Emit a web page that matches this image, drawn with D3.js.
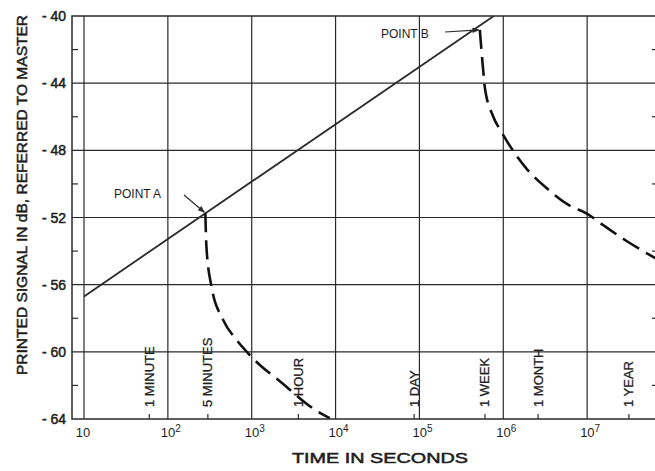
<!DOCTYPE html>
<html>
<head>
<meta charset="utf-8">
<script src="https://cdn.jsdelivr.net/npm/d3@7"></script>
<style>
  body { margin: 0; background: #fff; }
  text { font-family: "Liberation Sans", Arial, sans-serif; fill: #1e1e1e; }
</style>
</head>
<body>
<div id="chart"></div>
<script>
// Decade ticks along the time axis (seconds)
const decades = [10, 1e2, 1e3, 1e4, 1e5, 1e6, 1e7];
const decadeExp = ["", "2", "3", "4", "5", "6", "7"];
const dbTicks = [-40, -44, -48, -52, -56, -60, -64];
const dbMinor = [-42, -46, -50, -54, -58, -62];

// Named time markers
const markerNames = ["1 MINUTE", "5 MINUTES", "1 HOUR", "1 DAY", "1 WEEK", "1 MONTH", "1 YEAR"];
const markerTimes = [60, 300, 3600, 86400, 604800, 2.6e6, 3.15e7];

// Straight build-up line
const lineTimes = [10, 7.7e5];
const lineDb = [-56.7, -40];

// Decay after point A
const curveATimes = [280, 288, 331, 457, 661, 912, 1259, 1995, 5890, 8510];
const curveADb = [-51.75, -53.7, -56.1, -58.1, -59.3, -60.1, -60.8, -61.6, -63.5, -63.95];

// Decay after point B
const curveBTimes = [5.25e5, 5.75e5, 6.0e5, 7.6e5, 9.5e5, 1.26e6, 1.9e6, 3.2e6, 6.2e6, 9.8e6, 1.55e7, 2.95e7, 5.9e7, 7.5e7];
const curveBDb = [-40.83, -43.2, -44.2, -46.0, -46.9, -47.9, -49.1, -50.2, -51.3, -51.75, -52.45, -53.4, -54.3, -54.6];

const pointA = [280, -51.75];
const pointB = [5.25e5, -40.83];

const width = 655, height = 471;
const frame = { left: 72, right: 658, top: 16, bottom: 419 };

const svg = d3.select("#chart").append("svg")
    .attr("width", width)
    .attr("height", height);

const x = d3.scaleLog().domain([10, 1e8]).range([84, 671]);
const y = d3.scaleLinear().domain([-64, -40]).range([frame.bottom, frame.top]);

const ink = "#2a2a2a";

svg.append("defs").append("clipPath").attr("id", "clip")
  .append("rect")
    .attr("x", frame.left).attr("y", frame.top)
    .attr("width", frame.right - frame.left).attr("height", frame.bottom - frame.top);

svg.append("defs").append("marker")
    .attr("id", "arrow")
    .attr("viewBox", "0 0 10 10")
    .attr("refX", 9).attr("refY", 5)
    .attr("markerWidth", 9).attr("markerHeight", 7)
    .attr("markerUnits", "userSpaceOnUse")
    .attr("orient", "auto")
  .append("path")
    .attr("d", "M0,1 L10,5 L0,9 Z")
    .attr("fill", ink);

// Grid
svg.append("g").selectAll("line")
  .data(decades)
  .enter().append("line")
    .attr("x1", d => x(d)).attr("x2", d => x(d))
    .attr("y1", frame.top).attr("y2", frame.bottom)
    .attr("stroke", ink).attr("stroke-width", 1.2);

svg.append("g").selectAll("line")
  .data(dbTicks.slice(1, -1))
  .enter().append("line")
    .attr("x1", frame.left).attr("x2", frame.right)
    .attr("y1", d => y(d)).attr("y2", d => y(d))
    .attr("stroke", ink).attr("stroke-width", 1.2);

// Frame
svg.append("rect")
    .attr("x", frame.left).attr("y", frame.top)
    .attr("width", frame.right - frame.left).attr("height", frame.bottom - frame.top)
    .attr("fill", "none").attr("stroke", ink).attr("stroke-width", 1.5);

// Minor dB ticks, inside both sides
svg.append("g").selectAll("line")
  .data(dbMinor)
  .enter().append("line")
    .attr("x1", frame.left).attr("x2", frame.left + 6)
    .attr("y1", d => y(d)).attr("y2", d => y(d))
    .attr("stroke", ink).attr("stroke-width", 1.2);

svg.append("g").selectAll("line")
  .data(dbMinor)
  .enter().append("line")
    .attr("x1", frame.right - 6).attr("x2", frame.right)
    .attr("y1", d => y(d)).attr("y2", d => y(d))
    .attr("stroke", ink).attr("stroke-width", 1.2);

// Y tick labels
svg.append("g").selectAll("text")
  .data(dbTicks)
  .enter().append("text")
    .attr("x", 66)
    .attr("y", d => y(d) + 5)
    .attr("text-anchor", "end")
    .style("font-size", "14px")
    .style("stroke", "#1e1e1e").style("stroke-width", 0.5)
    .text(d => "- " + Math.abs(d));

// X tick labels (powers of ten)
const xl = svg.append("g").selectAll("text")
  .data(decades)
  .enter().append("text")
    .attr("x", (d, i) => x(d) + (i === 0 ? -1 : 3))
    .attr("y", 437)
    .attr("text-anchor", "middle")
    .style("font-size", "13px");
xl.append("tspan").text("10");
xl.append("tspan")
    .attr("dy", -5)
    .style("font-size", "10px")
    .text((d, i) => decadeExp[i]);

// Time marker ticks and labels
svg.append("g").selectAll("line")
  .data(markerTimes)
  .enter().append("line")
    .attr("x1", d => x(d)).attr("x2", d => x(d))
    .attr("y1", frame.bottom).attr("y2", frame.bottom - 5)
    .attr("stroke", ink).attr("stroke-width", 1.2);

svg.append("g").selectAll("text")
  .data(markerTimes)
  .enter().append("text")
    .attr("transform", d => `translate(${x(d) + 4.5},407) rotate(-90)`)
    .style("font-size", "13px")
    .style("stroke", "#1e1e1e").style("stroke-width", 0.3)
    .text((d, i) => markerNames[i]);

// Curves
const plot = svg.append("g").attr("clip-path", "url(#clip)");

const lineGen = d3.line()
    .x(d => x(d[0]))
    .y(d => y(d[1]))
    .curve(d3.curveMonotoneX);

plot.append("path")
    .datum(d3.zip(lineTimes, lineDb))
    .attr("d", lineGen)
    .attr("fill", "none").attr("stroke", ink).attr("stroke-width", 1.8);

plot.append("path")
    .datum(d3.zip(curveATimes, curveADb))
    .attr("d", lineGen)
    .attr("fill", "none").attr("stroke", "#111").attr("stroke-width", 2.6)
    .attr("stroke-dasharray", "19,8");

plot.append("path")
    .datum(d3.zip(curveBTimes, curveBDb))
    .attr("d", lineGen)
    .attr("fill", "none").attr("stroke", "#111").attr("stroke-width", 2.6)
    .attr("stroke-dasharray", "19,8");

// Point annotations
svg.append("text")
    .attr("x", 114).attr("y", 198)
    .style("font-size", "12px")
    .text("POINT A");
svg.append("line")
    .attr("x1", 184).attr("y1", 195)
    .attr("x2", x(pointA[0]) - 1).attr("y2", y(pointA[1]) - 1)
    .attr("stroke", ink).attr("stroke-width", 1.2)
    .attr("marker-end", "url(#arrow)");

svg.append("text")
    .attr("x", 381).attr("y", 38)
    .style("font-size", "12px")
    .text("POINT B");
svg.append("line")
    .attr("x1", 445).attr("y1", 32)
    .attr("x2", x(pointB[0]) - 1).attr("y2", y(pointB[1]))
    .attr("stroke", ink).attr("stroke-width", 1.2)
    .attr("marker-end", "url(#arrow)");

// Axis titles
svg.append("text")
    .attr("x", 380).attr("y", 463)
    .attr("text-anchor", "middle")
    .attr("textLength", 176)
    .attr("lengthAdjust", "spacingAndGlyphs")
    .style("font-size", "14px")
    .style("stroke", "#1e1e1e").style("stroke-width", 0.5)
    .text("TIME IN SECONDS");

svg.append("text")
    .attr("transform", "translate(27,195) rotate(-90)")
    .attr("text-anchor", "middle")
    .attr("textLength", 360)
    .attr("lengthAdjust", "spacingAndGlyphs")
    .style("font-size", "15px")
    .style("stroke", "#1e1e1e").style("stroke-width", 0.5)
    .text("PRINTED SIGNAL IN dB, REFERRED TO MASTER");
</script>
</body>
</html>
